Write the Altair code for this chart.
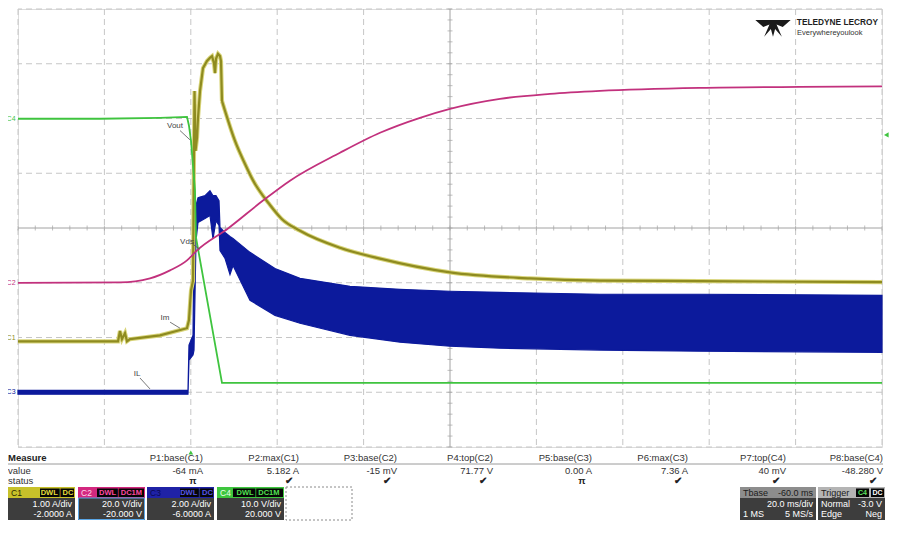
import altair as alt
import pandas as pd
import numpy as np

FONT = "Liberation Sans"

# ---------------- channel settings ----------------
channels = ["C1", "C2", "C3", "C4"]
ch_per_div = [1.0, 20.0, 2.0, 10.0]
ch_offset = [-2.0, -20.0, -6.0, 20.0]
ch_color = ["#8e8b20", "#c2317d", "#0c1a9c", "#3fc43f"]
c1_glow = "#d9d57a"

T_MIN, T_MAX = -40.0, 160.0      # 20 ms/div, 10 divisions, trigger at t=0
D_MIN, D_MAX = -4.0, 4.0         # 8 vertical divisions

# ---------------- traces ----------------
# C1 : Im  (A) - switch-on part
c1_t = [-40.0, -16.85, -16.39, -15.93, -15.23, -14.77, -14.07, -7.13, -0.88, -0.42, -0.19, 0.05, 0.51,
        0.74, 0.86, 1.09, 1.44, 1.67, 2.13, 2.82, 3.75, 4.44, 4.91, 5.37, 5.60, 5.83, 6.30, 6.76, 6.99,
        7.22]
c1_v = [-0.07, -0.07, 0.12, -0.03, 0.08, -0.07, -0.03, 0.04, 0.17, 0.32, 0.59, 0.86, 1.04,
        3.41, 4.50, 3.41, 3.65, 4.01, 4.50, 4.92, 5.05, 5.11, 5.14, 5.01, 4.83, 5.09, 5.18, 5.14, 5.05,
        4.32]
# C1 : Im  (A) - decay part
c1d_t = [7.22, 7.92, 10.23, 12.55, 14.40, 18.33, 21.0, 25.28, 34.54, 43.80, 60.0, 78.52, 94.72,
         117.87, 160.0]
c1d_v = [4.32, 4.14, 3.59, 3.17, 2.87, 2.42, 2.17, 1.95, 1.64, 1.44, 1.19, 1.08, 1.04, 1.03, 1.01]

# C2 : Vds (V)
c2_t = [-40.0, -16.39, -9.44, -4.81, -0.88, 1.44, 8.61, 16.71, 22.96, 34.54, 43.80, 53.06,
        60.0, 71.57, 83.15, 94.72, 117.87, 141.02, 160.0]
c2_v = [-0.02, 0.15, 1.60, 4.52, 8.16, 11.80, 19.82, 30.02, 37.30, 47.50, 54.79, 60.26,
        63.53, 67.18, 69.00, 70.09, 71.18, 71.55, 71.77]

# C3 : IL (A) - switching envelope (min / max)
c3_t = [-40.0, -0.65, -0.42, 0.51, 0.74, 1.20, 1.67, 3.29, 4.44, 5.14, 5.83, 6.53, 6.76, 7.92, 9.07,
        9.77, 13.70, 19.49, 25.28, 36.85, 48.43, 60.0, 71.57, 94.72, 117.87, 160.0]
c3_hi = [0.07, 0.07, 1.72, 2.08, 5.91, 6.82, 7.11, 7.18, 7.36, 7.18, 7.18, 7.00, 6.02, 5.84, 5.69,
         5.62, 5.11, 4.52, 4.16, 3.87, 3.76, 3.69, 3.65, 3.58, 3.58, 3.54]
c3_lo = [-0.07, -0.07, 1.17, 1.36, 1.54, 5.54, 6.20, 6.35, 6.46, 5.60, 6.27, 6.09, 5.18, 4.89, 4.30,
         4.63, 3.36, 2.81, 2.52, 2.08, 1.83, 1.68, 1.61, 1.54, 1.50, 1.46]

# C4 : Vout (V)
c4_t = [-40.0, -21.02, -7.13, -0.88, -0.42, 0.05, 0.51, 0.97, 1.20, 7.22, 160.0]
c4_v = [-0.05, -0.05, 0.13, 0.31, -1.33, -4.06, -8.62, -13.17, -21.73, -48.28, -48.28]

# trace annotations (label, t, div, leader from t/div to t/div)
ann_text = ["Vout", "Vds", "Im", "IL"]
ann_t = [-3.66, -0.88, -5.97, -12.45]
ann_d = [1.87, -0.25, -1.65, -2.67]
ann_t1 = [-2.5, 0.51, -4.8, -11.76]
ann_d1 = [1.78, -0.30, -1.72, -2.74]
ann_t2 = [-0.19, 2.13, -2.5, -9.44]
ann_d2 = [1.61, -0.39, -1.83, -2.94]

TRIG_CH = "C4"
TRIG_LEVEL = -3.0

# ---------------- measurement panel ----------------
meas_names = ["P1:base(C1)", "P2:max(C1)", "P3:base(C2)", "P4:top(C2)",
              "P5:base(C3)", "P6:max(C3)", "P7:top(C4)", "P8:base(C4)"]
meas_values = ["-64 mA", "5.182 A", "-15 mV", "71.77 V", "0.00 A", "7.36 A", "40 mV", "-48.280 V"]
meas_status = ["π", "✔", "✔", "✔", "π", "✔", "✔", "✔"]

box_div = ["1.00 A/div", "20.0 V/div", "2.00 A/div", "10.0 V/div"]
box_off = ["-2.0000 A", "-20.000 V", "-6.0000 A", "20.000 V"]
box_tag = ["DWL│DC", "DWL│DC1M", "DWL│DC", "DWL│DC1M"]
box_head = ["#c7c12a", "#d3287f", "#1f22a6", "#3ec63e"]
box_tagcol = ["#e6df3c", "#ff4aa2", "#5656e6", "#52e052"]
box_labcol = ["#2a2a00", "#ffd6ea", "#0a0a50", "#eaffea"]

tb_rows = [("Tbase", "-60.0 ms"), ("", "20.0 ms/div"), ("1 MS", "5 MS/s")]
trig_rows = [("Trigger", ""), ("Normal", "-3.0 V"), ("Edge", "Neg")]

# ---------------- layout (panel units, px from plot left / top) ----------------
col_right = [185, 281, 379, 475, 574, 670, 768, 865]
box_left = [-10, 60, 129, 199]
box_w = 67
tag_off = [32, 19, 33, 16]
PH_TOP, PH_MID, PH_BOT = 478, 489, 511
ROW_HEAD, ROW_VAL, ROW_STAT = 449, 462, 472
TB_L, TR_L, TB_W = 722, 800, 67


def to_div(values, ch):
    i = channels.index(ch)
    return [(v + ch_offset[i]) / ch_per_div[i] for v in values]


xs = alt.Scale(domain=[T_MIN, T_MAX], nice=False, zero=False)
ys = alt.Scale(domain=[D_MIN, D_MAX], nice=False, zero=False)
X = lambda f="t": alt.X(f"{f}:Q", scale=xs, axis=None)
Y = lambda f="d": alt.Y(f"{f}:Q", scale=ys, axis=None)

T_MID = (T_MIN + T_MAX) / 2
grid_t = [v for v in np.arange(T_MIN, T_MAX + 0.1, 20.0) if v != T_MID]
grid_d = [v for v in np.arange(D_MIN, D_MAX + 0.1, 1.0) if v != 0.0]

grid_v = alt.Chart(pd.DataFrame({"t": grid_t})).mark_rule(
    color="#c6c6c6", strokeWidth=1, strokeDash=[6, 4]).encode(x=X())
grid_h = alt.Chart(pd.DataFrame({"d": grid_d})).mark_rule(
    color="#c6c6c6", strokeWidth=1, strokeDash=[6, 4]).encode(y=Y())
center_v = alt.Chart(pd.DataFrame({"t": [T_MID]})).mark_rule(
    color="#a2a2a2", strokeWidth=1).encode(x=X())
center_h = alt.Chart(pd.DataFrame({"d": [0.0]})).mark_rule(
    color="#a2a2a2", strokeWidth=1).encode(y=Y())

minor_t = np.arange(T_MIN, T_MAX + 0.01, 4.0)
minor_d = np.arange(D_MIN, D_MAX + 0.001, 0.2)
ticks_h = alt.Chart(pd.DataFrame({"t": minor_t, "d": 0.0})).mark_tick(
    orient="vertical", size=5, thickness=1, color="#a2a2a2").encode(x=X(), y=Y())
ticks_v = alt.Chart(pd.DataFrame({"t": T_MID, "d": minor_d})).mark_tick(
    orient="horizontal", size=5, thickness=1, color="#a2a2a2").encode(x=X(), y=Y())

df3 = pd.DataFrame({"t": c3_t, "hi": to_div(c3_hi, "C3"), "lo": to_div(c3_lo, "C3")})
c3_layer = alt.Chart(df3).mark_area(color=ch_color[2], stroke=ch_color[2], strokeWidth=1.2,
                                    opacity=1).encode(x=X(), y=Y("hi"), y2="lo:Q")


def line_layer(tt, vv, ch, width, interp, color=None):
    df = pd.DataFrame({"t": tt, "d": to_div(vv, ch), "i": range(len(tt))})
    col = color if color else ch_color[channels.index(ch)]
    return alt.Chart(df).mark_line(color=col, strokeWidth=width,
                                   interpolate=interp).encode(x=X(), y=Y(), order="i:Q")


c1_glow_a = line_layer(c1_t, c1_v, "C1", 4.2, "linear", c1_glow)
c1_glow_b = line_layer(c1d_t, c1d_v, "C1", 4.2, "monotone", c1_glow)
c1_a = line_layer(c1_t, c1_v, "C1", 2.2, "linear")
c1_b = line_layer(c1d_t, c1d_v, "C1", 2.2, "monotone")
c4_layer = line_layer(c4_t, c4_v, "C4", 1.8, "linear")
c2_layer = line_layer(c2_t, c2_v, "C2", 1.8, "monotone")

# channel ground markers on the left
df_mark = pd.DataFrame({"t": T_MIN - 1.6, "d": [o / s for o, s in zip(ch_offset, ch_per_div)],
                        "text": channels, "color": ch_color})
marks_layer = alt.Chart(df_mark).mark_text(font=FONT, fontSize=7, align="center",
                                           baseline="middle").encode(
    x=X(), y=Y(), text="text:N", color=alt.Color("color:N", scale=None))

ti = channels.index(TRIG_CH)
trig_lvl = alt.Chart(pd.DataFrame({"t": [T_MAX + 1.0],
                                   "d": [(TRIG_LEVEL + ch_offset[ti]) / ch_per_div[ti]]})).mark_point(
    shape="triangle-left", filled=True, size=28, color=ch_color[3], opacity=1).encode(x=X(), y=Y())
trig_pos = alt.Chart(pd.DataFrame({"t": [0.0], "d": [D_MIN - 0.1]})).mark_point(
    shape="triangle-up", filled=True, size=22, color=ch_color[3], opacity=1).encode(x=X(), y=Y())

df_ann = pd.DataFrame({"text": ann_text, "t": ann_t, "d": ann_d, "t1": ann_t1, "d1": ann_d1,
                       "t2": ann_t2, "d2": ann_d2})
ann_txt = alt.Chart(df_ann).mark_text(font=FONT, fontSize=8, color="#444444", align="center",
                                      baseline="middle").encode(x=X(), y=Y(), text="text:N")
ann_rule = alt.Chart(df_ann).mark_rule(color="#555555", strokeWidth=0.8).encode(
    x=X("t1"), y=Y("d1"), x2="t2:Q", y2="d2:Q")

scope = alt.layer(grid_v, grid_h, center_v, center_h, ticks_h, ticks_v, c3_layer,
                  c1_glow_a, c1_glow_b, c1_a, c1_b, c4_layer, c2_layer,
                  marks_layer, trig_lvl, trig_pos, ann_rule, ann_txt)

# ---------------- panel layers ----------------
psx = alt.Scale(domain=[0, 864], nice=False, zero=False)
psy = alt.Scale(domain=[438, 0], nice=False, zero=False)
PX = lambda f="x": alt.X(f"{f}:Q", scale=psx, axis=None)
PY = lambda f="y": alt.Y(f"{f}:Q", scale=psy, axis=None)

rect_rows = []
for i in range(4):
    L = box_left[i]
    rect_rows.append((L, L + box_w, PH_TOP, PH_MID, box_head[i]))
    rect_rows.append((L + tag_off[i], L + box_w - 1, PH_TOP + 1.5, PH_MID - 1, "#050505"))
    rect_rows.append((L, L + box_w, PH_MID, PH_BOT, "#3d3d3d"))
rect_rows.append((TB_L, TB_L + 76, PH_TOP, PH_MID, "#8d8d8d"))
rect_rows.append((TB_L, TB_L + 76, PH_MID, PH_BOT, "#3d3d3d"))
rect_rows.append((TR_L, TR_L + TB_W, PH_TOP, PH_MID, "#b4b4b4"))
rect_rows.append((TR_L + 38, TR_L + 51, PH_TOP + 1.5, PH_MID - 1, "#050505"))
rect_rows.append((TR_L + 53, TR_L + 66, PH_TOP + 1.5, PH_MID - 1, "#050505"))
rect_rows.append((TR_L, TR_L + TB_W, PH_MID, PH_BOT, "#3d3d3d"))
df_rect = pd.DataFrame(rect_rows, columns=["x", "x2", "y", "y2", "fill"])
rects = alt.Chart(df_rect).mark_rect().encode(x=PX(), x2="x2:Q", y=PY(), y2="y2:Q",
                                              color=alt.Color("fill:N", scale=None))
c2_frame = alt.Chart(pd.DataFrame({"x": [box_left[1] + 0.5], "x2": [box_left[1] + box_w - 0.5],
                                   "y": [PH_MID], "y2": [PH_BOT - 0.5]})).mark_rect(
    fill=None, stroke="#5aa6e6", strokeWidth=1).encode(x=PX(), x2="x2:Q", y=PY(), y2="y2:Q")
empty_box = alt.Chart(pd.DataFrame({"x": [268], "x2": [334], "y": [PH_TOP], "y2": [PH_BOT]})).mark_rect(
    fill=None, stroke="#8a8a8a", strokeWidth=1, strokeDash=[2, 2]).encode(
    x=PX(), x2="x2:Q", y=PY(), y2="y2:Q")
sep = alt.Chart(pd.DataFrame({"x": [-10], "x2": [col_right[-1]], "y": [ROW_HEAD + 6]})).mark_rule(
    color="#9a9a9a", strokeWidth=1).encode(x=PX(), x2="x2:Q", y=PY())

texts = []  # (x, y, text, color, size, weight, align)
texts.append((-10, ROW_HEAD, "Measure", "#222222", 9.5, "bold", "left"))
texts.append((-10, ROW_VAL, "value", "#333333", 9.5, "normal", "left"))
texts.append((-10, ROW_STAT, "status", "#333333", 9.5, "normal", "left"))
for i in range(8):
    texts.append((col_right[i], ROW_HEAD, meas_names[i], "#333333", 9.5, "normal", "right"))
    texts.append((col_right[i], ROW_VAL, meas_values[i], "#333333", 9.5, "normal", "right"))
    texts.append((col_right[i] - 10, ROW_STAT, meas_status[i], "#222222", 9.5, "bold", "center"))
for i in range(4):
    L = box_left[i]
    texts.append((L + 3, (PH_TOP + PH_MID) / 2, channels[i], box_labcol[i], 8.5, "normal", "left"))
    texts.append((L + (tag_off[i] + box_w - 1) / 2, (PH_TOP + PH_MID) / 2 + 0.5, box_tag[i],
                  box_tagcol[i], 7.5, "bold", "center"))
    texts.append((L + box_w - 3, PH_MID + 6, box_div[i], "#ffffff", 9, "normal", "right"))
    texts.append((L + box_w - 3, PH_MID + 16, box_off[i], "#ffffff", 9, "normal", "right"))
for r, (lt, rt) in enumerate(tb_rows):
    yy = (PH_TOP + PH_MID) / 2 if r == 0 else PH_MID + 6 + (r - 1) * 10
    col = "#1a1a1a" if r == 0 else "#ffffff"
    if lt:
        texts.append((TB_L + 3, yy, lt, col, 9, "normal", "left"))
    if rt:
        texts.append((TB_L + 73, yy, rt, col, 9, "normal", "right"))
for r, (lt, rt) in enumerate(trig_rows):
    yy = (PH_TOP + PH_MID) / 2 if r == 0 else PH_MID + 6 + (r - 1) * 10
    col = "#1a1a1a" if r == 0 else "#ffffff"
    if lt:
        texts.append((TR_L + 3, yy, lt, col, 9, "normal", "left"))
    if rt:
        texts.append((TR_L + TB_W - 3, yy, rt, col, 9, "normal", "right"))
texts.append((TR_L + 44.5, (PH_TOP + PH_MID) / 2 + 0.5, "C4", "#5ee05e", 7, "bold", "center"))
texts.append((TR_L + 59.5, (PH_TOP + PH_MID) / 2 + 0.5, "DC", "#ffffff", 7, "bold", "center"))
# logo text
texts.append((860, 14, "TELEDYNE LECROY", "#1e1e1e", 8.3, "bold", "right"))
texts.append((779, 24, "Everywhereyoulook", "#333333", 7.5, "normal", "left"))

df_txt = pd.DataFrame(texts, columns=["x", "y", "text", "color", "size", "weight", "align"])
text_layers = []
for (w, a), sub in df_txt.groupby(["weight", "align"]):
    text_layers.append(
        alt.Chart(sub).mark_text(font=FONT, fontWeight=w, align=a, baseline="middle").encode(
            x=PX(), y=PY(), text="text:N", color=alt.Color("color:N", scale=None),
            size=alt.Size("size:Q", scale=None, legend=None)))

logo_path = ("M-1,-0.45 L1,-0.45 L0.55,-0.05 L0.2,-0.2 L0.5,0.5 L0.12,0.05 L0,0.5 "
             "L-0.12,0.05 L-0.5,0.5 L-0.2,-0.2 L-0.55,-0.05 Z")
logo = alt.Chart(pd.DataFrame({"x": [755], "y": [19]})).mark_point(
    shape=logo_path, filled=True, size=1250, color="#1a1a1a", opacity=1).encode(x=PX(), y=PY())

panel = alt.layer(rects, c2_frame, empty_box, sep, logo, *text_layers)

chart = alt.layer(scope, panel).resolve_scale(x="independent", y="independent").properties(
    width=864, height=438,
    autosize=alt.AutoSizeParams(type="none"),
    padding={"left": 10, "right": 10, "top": 1, "bottom": 78},
).configure_view(stroke="#c6c6c6", strokeWidth=1).configure(background="white")

chart.save("out.html", embed_options={"renderer": "svg", "actions": False})
